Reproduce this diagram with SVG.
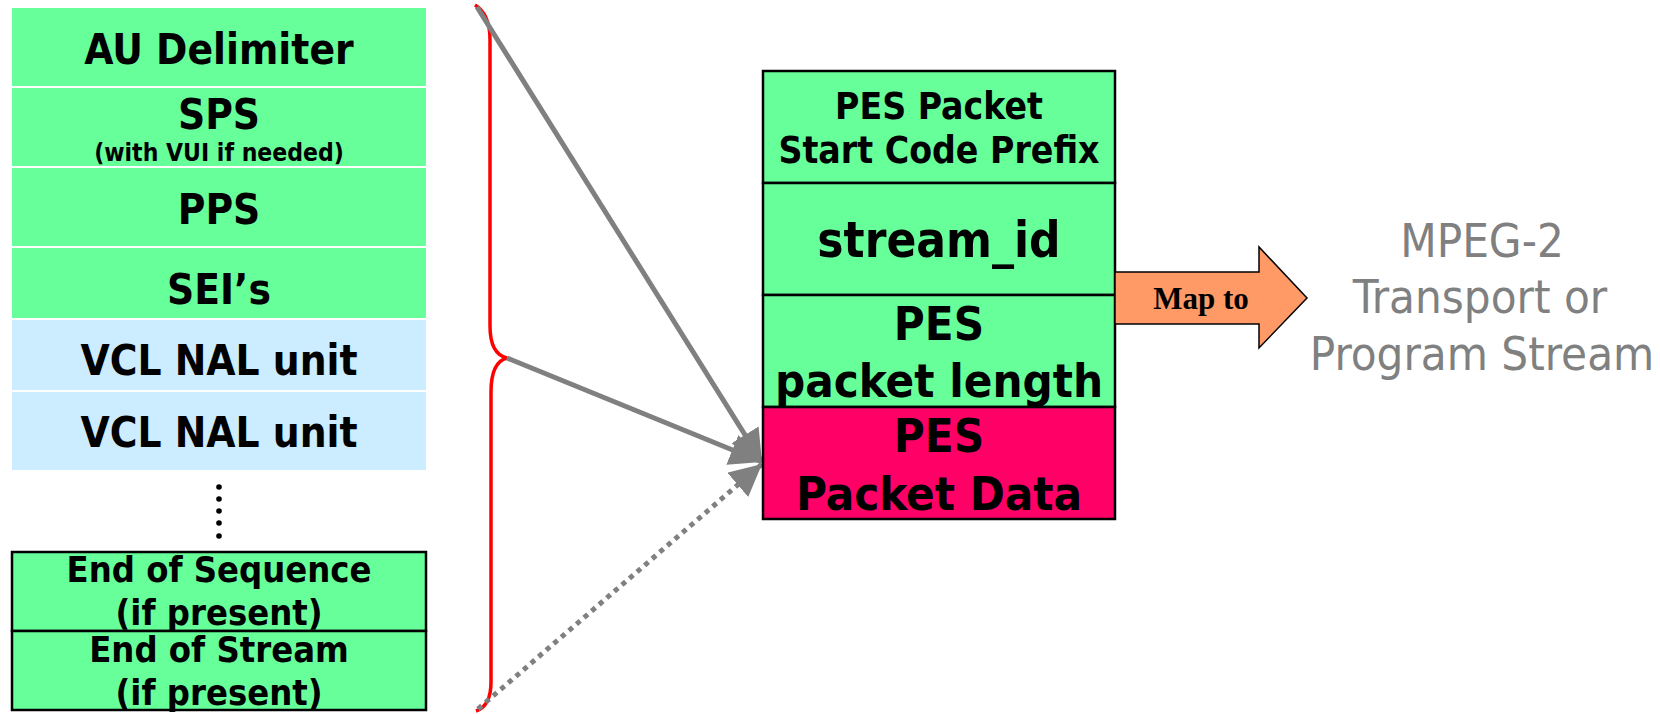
<svg xmlns="http://www.w3.org/2000/svg" width="1660" height="714" viewBox="0 0 1660 714">
<style>
.b{font-family:'DejaVu Sans Condensed','DejaVu Sans',sans-serif;font-stretch:condensed;font-weight:bold;fill:#000;text-anchor:middle}
.g{fill:#66FF99}
.v{fill:#CCECFF}
.box{stroke:#000;stroke-width:2.5}
.conn{stroke:#808080;stroke-width:5;fill:none}
.dot{stroke-dasharray:5 5}
.gr{font-family:'DejaVu Sans Condensed','DejaVu Sans',sans-serif;font-stretch:condensed;fill:#808080;text-anchor:middle;font-size:47px}
</style>
<defs>
<marker id="ah" viewBox="0 0 10 10" refX="10" refY="5" markerWidth="32" markerHeight="32" markerUnits="userSpaceOnUse" orient="auto">
<path d="M0,0 L10,5 L0,10 z" fill="#808080"/>
</marker>
</defs>
<rect width="1660" height="714" fill="#fff"/>
<g id="au"><rect class="g" x="12" y="8" width="414" height="78"/><text class="b" x="219" y="64" font-size="42">AU Delimiter</text></g>
<g id="sps"><rect class="g" x="12" y="88" width="414" height="78"/><text class="b" x="219" y="129" font-size="42">SPS</text><text class="b" x="219" y="161" font-size="24.5">(with VUI if needed)</text></g>
<g id="pps"><rect class="g" x="12" y="168" width="414" height="78"/><text class="b" x="219" y="224" font-size="42">PPS</text></g>
<g id="sei"><rect class="g" x="12" y="248" width="414" height="70"/><text class="b" x="219" y="304" font-size="42">SEI’s</text></g>
<g id="vcl1"><rect class="v" x="12" y="320" width="414" height="70"/><text class="b" x="219" y="375" font-size="42">VCL NAL unit</text></g>
<g id="vcl2"><rect class="v" x="12" y="392" width="414" height="78"/><text class="b" x="219" y="447" font-size="42">VCL NAL unit</text></g>
<g id="dots" fill="#000"><circle cx="219" cy="487" r="2.8"/><circle cx="219" cy="499" r="2.8"/><circle cx="219" cy="511" r="2.8"/><circle cx="219" cy="523" r="2.8"/><circle cx="219" cy="536" r="2.8"/></g>
<g id="eos"><rect class="g box" x="12" y="552" width="414" height="79"/><text class="b" x="219" y="582" font-size="36">End of Sequence</text><text class="b" x="219" y="625" font-size="36">(if present)</text></g>
<g id="eostr"><rect class="g box" x="12" y="631" width="414" height="79"/><text class="b" x="219" y="662" font-size="36">End of Stream</text><text class="b" x="219" y="705" font-size="36">(if present)</text></g>
<g id="brace"><path d="M475 5 Q490 14 490 40 L490 326 Q490 354 507 358 Q491 362 491 392 L491 682 Q491 706 476 711" fill="none" stroke="#FF0000" stroke-width="3.5"/></g>
<g id="connectors">
<line class="conn" x1="477" y1="7" x2="762" y2="462" marker-end="url(#ah)"/>
<line class="conn" x1="507" y1="358" x2="762" y2="462" marker-end="url(#ah)"/>
<line class="conn dot" x1="478" y1="709" x2="762" y2="464" marker-end="url(#ah)"/>
</g>
<g id="pes-start"><rect class="g box" x="763" y="71" width="352" height="112"/><text class="b" x="939" y="119" font-size="37">PES Packet</text><text class="b" x="939" y="163" font-size="37">Start Code Prefix</text></g>
<g id="pes-sid"><rect class="g box" x="763" y="183" width="352" height="112"/><text class="b" x="939" y="257" font-size="49">stream_id</text></g>
<g id="pes-len"><rect class="g box" x="763" y="295" width="352" height="112"/><text class="b" x="939" y="340" font-size="47">PES</text><text class="b" x="939" y="397" font-size="47">packet length</text></g>
<g id="pes-data"><rect class="box" fill="#FF0066" x="763" y="407" width="352" height="112"/><text class="b" x="939" y="452" font-size="47">PES</text><text class="b" x="939" y="510" font-size="47">Packet Data</text></g>
<g id="mapto"><path d="M1115 272 L1259 272 L1259 247 L1307 298 L1259 348 L1259 324 L1115 324 Z" fill="#FF9966" stroke="#000" stroke-width="1.5"/><text x="1201" y="309" font-family="'Liberation Serif',serif" font-weight="bold" font-size="31" text-anchor="middle">Map to</text></g>
<g id="mpeg"><text class="gr" x="1482" y="257">MPEG-2</text><text class="gr" x="1480" y="313">Transport or</text><text class="gr" x="1482" y="370">Program Stream</text></g>
</svg>
